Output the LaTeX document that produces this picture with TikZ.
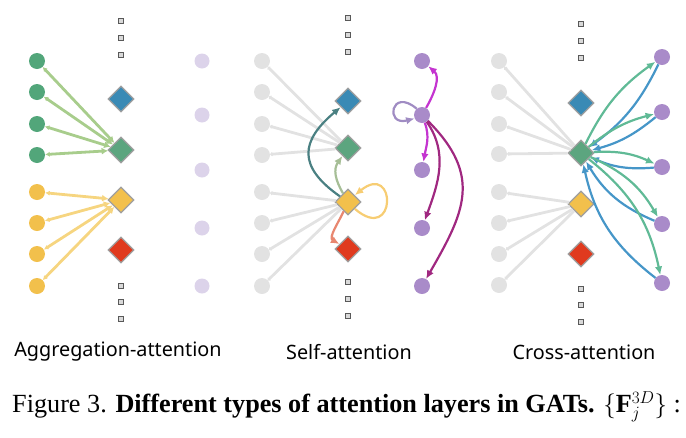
\documentclass[tikz,border=0pt]{standalone}
\usepackage{fontspec}
\setmainfont{Liberation Serif}
\setsansfont{Noto Sans}
\usetikzlibrary{arrows.meta,shapes.geometric}

\definecolor{ptgreen}{RGB}{82,166,122}
\definecolor{ptyellow}{RGB}{242,192,76}
\definecolor{dblue}{RGB}{58,138,181}
\definecolor{dgreen}{RGB}{92,165,127}
\definecolor{dred}{RGB}{224,58,30}
\definecolor{lpurple}{RGB}{220,211,234}
\definecolor{mpurple}{RGB}{169,139,201}
\definecolor{lgrey}{RGB}{226,226,226}
\definecolor{lgreen}{RGB}{168,205,140}
\definecolor{lyellow}{RGB}{246,213,128}
\definecolor{darkteal}{RGB}{74,128,130}
\definecolor{sage}{RGB}{166,190,150}
\definecolor{salmon}{RGB}{232,135,112}
\definecolor{magenta2}{RGB}{196,52,208}
\definecolor{plum}{RGB}{160,40,128}
\definecolor{looppurple}{RGB}{160,140,195}
\definecolor{cgreen}{RGB}{96,186,150}
\definecolor{cblue}{RGB}{70,150,200}

\begin{document}
\begin{tikzpicture}[x=1pt,y=-1pt,>={Latex[length=8.5pt,width=7.5pt]},
  pt/.style={circle,inner sep=0pt,minimum size=16pt},
  dia/.style={diamond,draw=gray!75,line width=1.3pt,inner sep=0pt,minimum size=26pt},
  sq/.style={rectangle,draw=gray!70!black,fill=gray!30,line width=0.7pt,inner sep=0pt,minimum size=5.5pt},
  agg/.style={line width=2.8pt,{Latex[length=4.5pt,width=5pt]}-{Latex[length=6.5pt,width=7pt]}},
  gl/.style={draw=lgrey,line width=2.8pt,{Circle[length=3.5pt,fill=gray!55]}-},
  cur/.style={->,line width=2.2pt},
  lab/.style={font=\sffamily\fontsize{19.8}{22}\selectfont}]
  \useasboundingbox (0,0) rectangle (686,437);

  % aggregation-attention
  \foreach \y [count=\i] in {61,92,124,155}
    \node[pt,fill=ptgreen] (ag\i) at (37,\y) {};
  \foreach \y [count=\i] in {192,223,254,286}
    \node[pt,fill=ptyellow] (ay\i) at (37,\y) {};
  \node[dia,fill=dblue] (ad1) at (121,99) {};
  \node[dia,fill=dgreen] (ad2) at (121,150) {};
  \node[dia,fill=ptyellow] (ad3) at (121,200) {};
  \node[dia,fill=dred] (ad4) at (121,250) {};
  \foreach \y [count=\i] in {21,38,55,286,302,319}
    \node[sq] (as\i) at (121,\y) {};
  \foreach \y [count=\i] in {61,115,170,228,286}
    \node[pt,fill=lpurple,minimum size=15pt] (ap\i) at (202,\y) {};
  \foreach \i in {1,...,4} {
    \draw[agg,draw=lgreen,fill=lgreen] (ag\i) -- (ad2);
    \draw[agg,draw=lyellow,fill=lyellow] (ay\i) -- (ad3);
  }

  % self-attention
  \foreach \y [count=\i] in {61,92,124,155,192,223,254,286}
    \node[pt,fill=lgrey] (sg\i) at (262,\y) {};
  \node[dia,fill=dblue] (sd1) at (348,101) {};
  \node[dia,fill=dgreen] (sd2) at (348,148) {};
  \node[dia,fill=ptyellow] (sd3) at (348,202) {};
  \node[dia,fill=dred] (sd4) at (348,249) {};
  \foreach \y [count=\i] in {18,35,52,282,299,316}
    \node[sq] (ss\i) at (348,\y) {};
  \foreach \y [count=\i] in {61,115,170,228,286}
    \node[pt,fill=mpurple] (sp\i) at (422,\y) {};
  \foreach \i in {1,...,4} \draw[gl] (sg\i) -- (sd2);
  \foreach \i in {5,...,8} \draw[gl] (sg\i) -- (sd3);
  \draw[cur,darkteal] (sd3) to[out=145,in=220,looseness=1.5] (sd1);
  \draw[cur,sage] (sd3) to[out=120,in=235,looseness=1.1] (sd2);
  \draw[cur,salmon] (sd3) to[out=245,in=150] (sd4);
  \draw[cur,lyellow!90!orange] (sd3.south east)
    .. controls +(42,36) and +(42,-34) .. (sd3.north east);
  \draw[cur,magenta2] (sp2) to[out=60,in=-40] (sp1);
  \draw[cur,magenta2] (sp2) to[out=-70,in=80] (sp3);
  \draw[cur,plum] (sp2) to[out=-55,in=70] (sp4);
  \draw[cur,plum] (sp2) to[out=-45,in=60,looseness=1.25] (sp5);
  \draw[cur,looppurple] (sp2.130)
    .. controls +(-26,-22) and +(-30,8) .. (sp2.205);

  % cross-attention
  \foreach \y [count=\i] in {61,92,124,154,192,223,254,285}
    \node[pt,fill=lgrey] (cg\i) at (499,\y) {};
  \node[dia,fill=dblue] (cd1) at (581,103) {};
  \node[dia,fill=dgreen] (cd2) at (581,153) {};
  \node[dia,fill=ptyellow] (cd3) at (581,204) {};
  \node[dia,fill=dred] (cd4) at (581,254) {};
  \foreach \y [count=\i] in {24,41,58,289,305,322}
    \node[sq] (cs\i) at (581,\y) {};
  \foreach \y [count=\i] in {57,112,167,224,283}
    \node[pt,fill=mpurple] (cp\i) at (662,\y) {};
  \foreach \i in {1,...,4} \draw[gl] (cg\i) -- (cd2);
  \foreach \i in {5,...,8} \draw[gl] (cg\i) -- (cd3);
  \foreach \i/\b in {1/14,2/12,3/14,4/18,5/20} {
    \draw[cur,cgreen] (cd2) to[bend left=\b] (cp\i);
    \draw[cur,cblue] (cp\i) to[bend left=\b] (cd2);
  }

  \node[lab] (l1) at (118,352) {Aggregation-attention};
  \node[lab] (l2) at (349,352) {Self-attention};
  \node[lab] (l3) at (584,352) {Cross-attention};
  \node[anchor=west,inner sep=0pt,font=\fontsize{26.2}{28}\selectfont] (cap) at (12,407)
    {Figure 3. \textbf{Different types of attention layers in GATs.} $\{\mathbf{F}^{3D}_j\}$ :};
\end{tikzpicture}
\end{document}
